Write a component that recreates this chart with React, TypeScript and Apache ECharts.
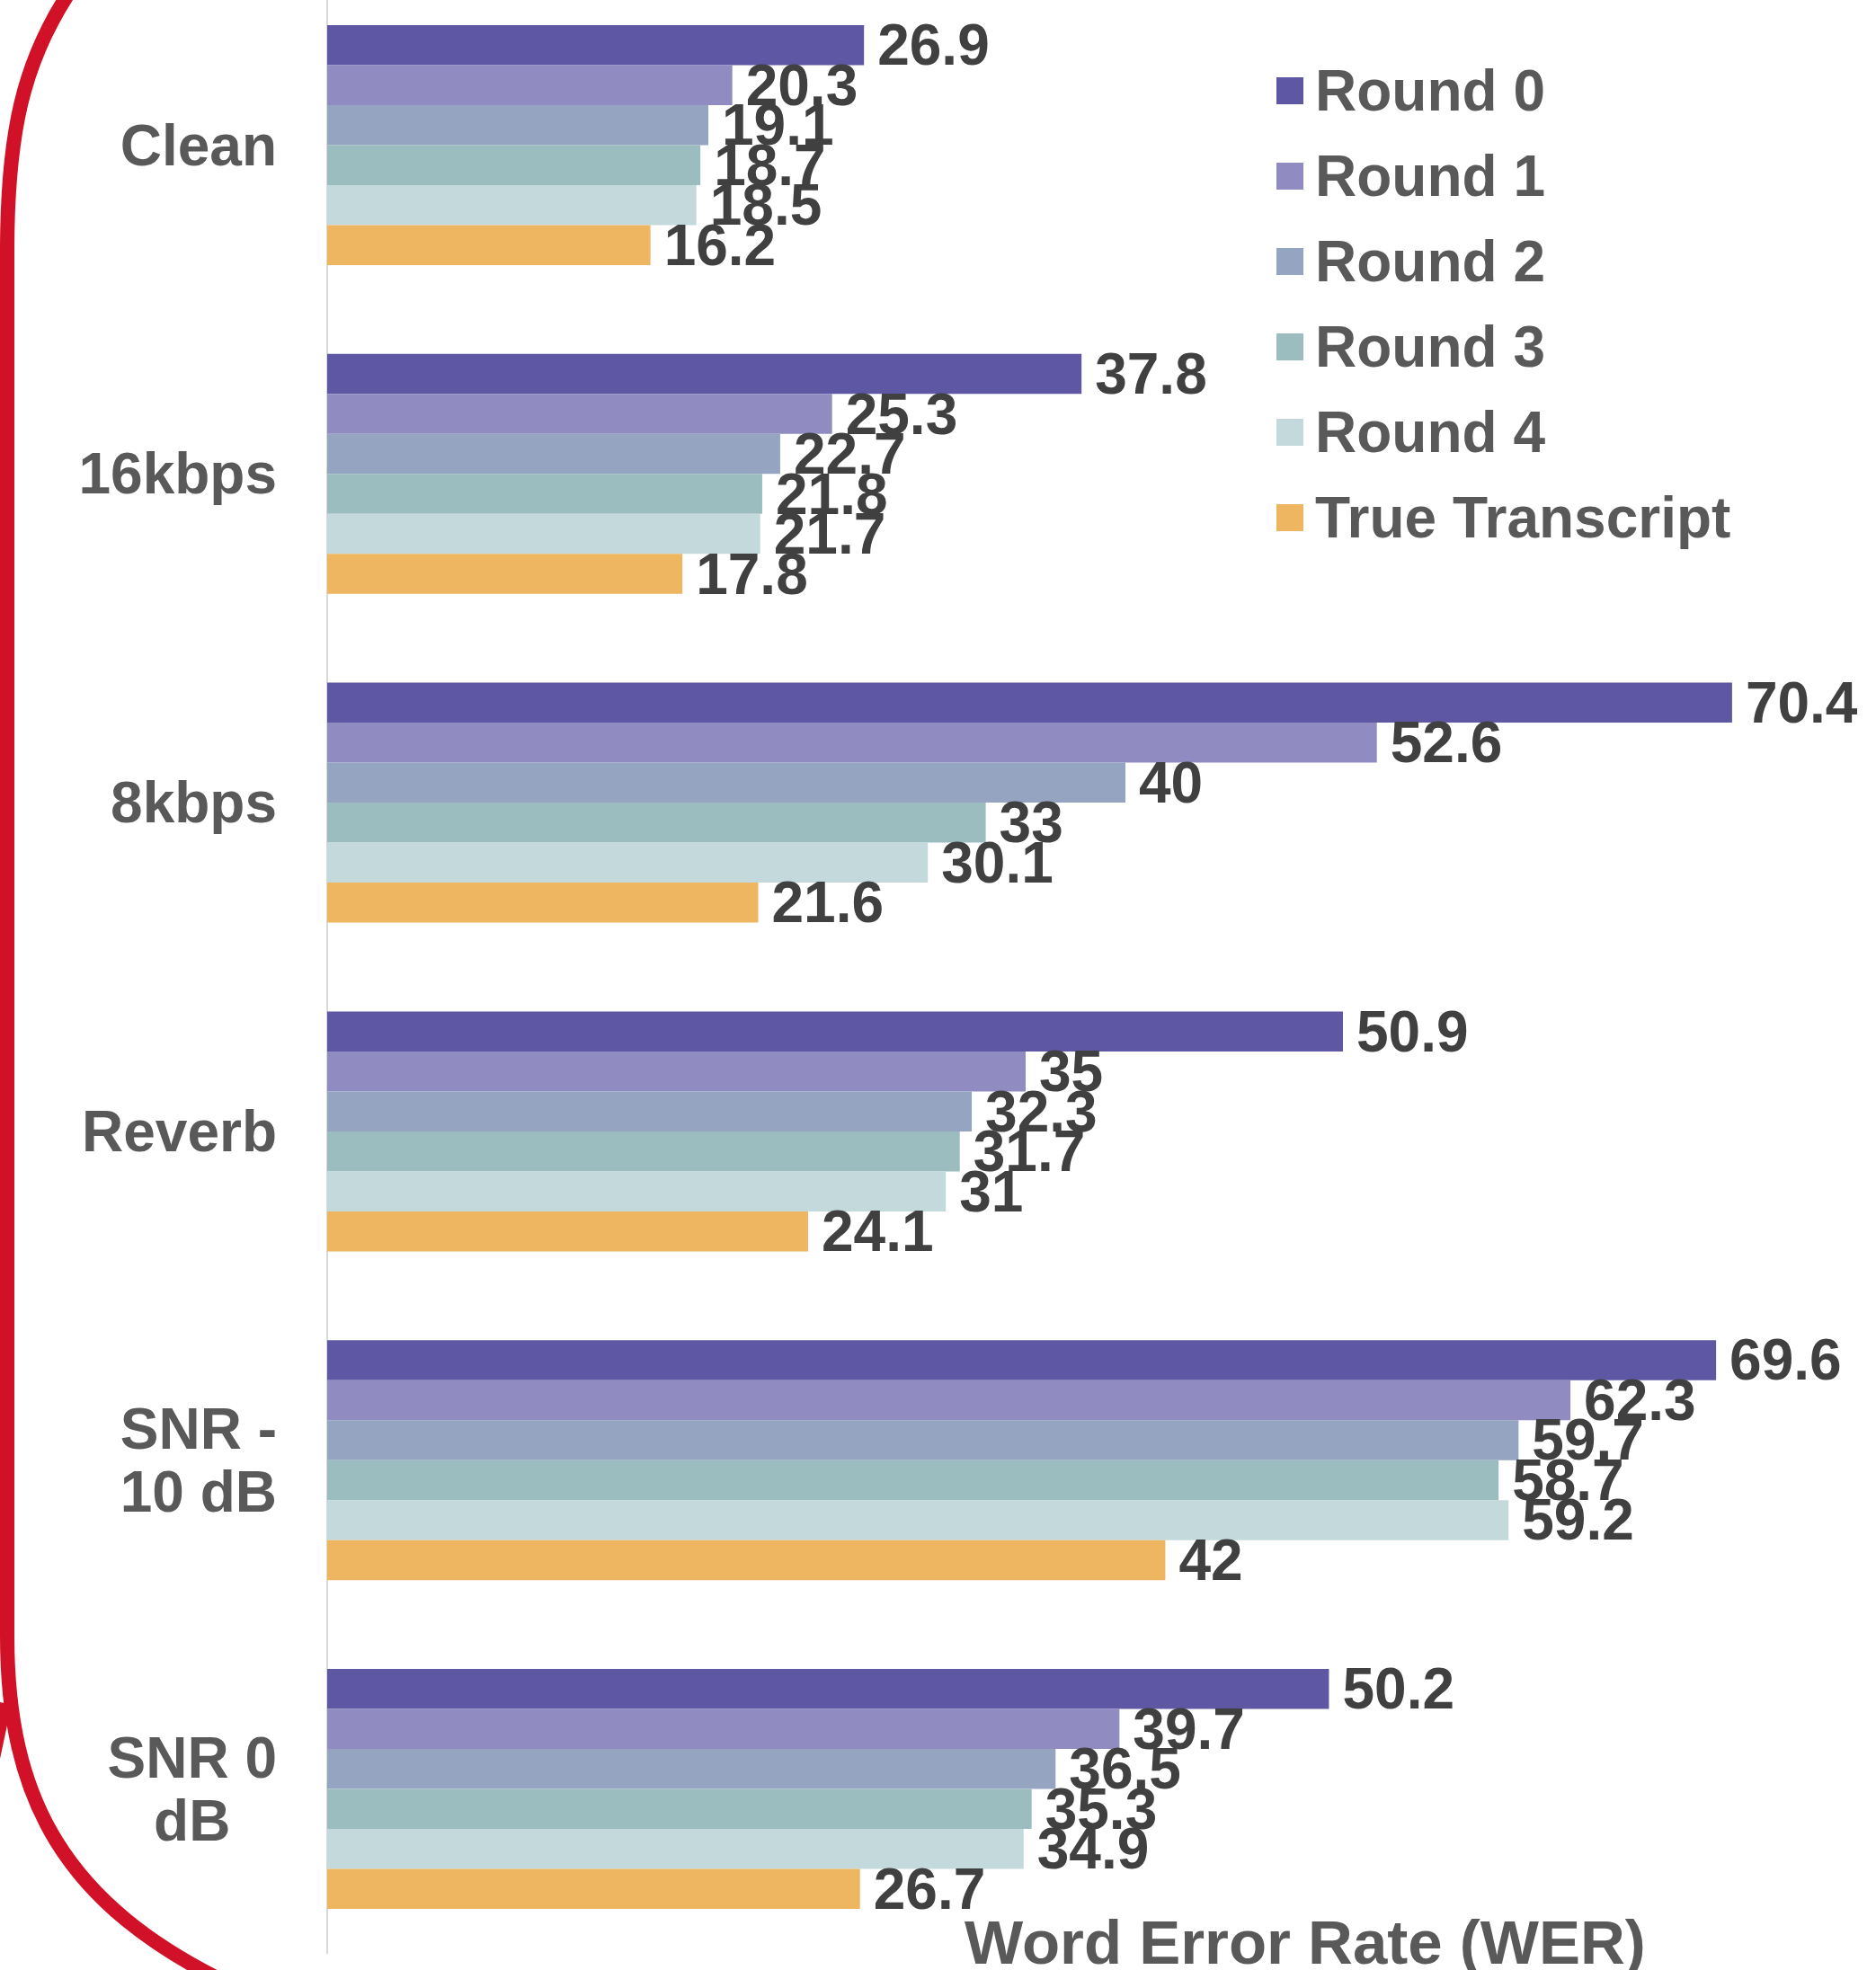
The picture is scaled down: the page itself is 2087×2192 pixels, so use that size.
import React, { useEffect, useRef } from "react";
import * as echarts from "echarts";

const categories = ["Clean", "16kbps", "8kbps", "Reverb", "SNR -\n10 dB", "SNR 0\ndB"];
const seriesNames = ["Round 0", "Round 1", "Round 2", "Round 3", "Round 4", "True Transcript"];
const round0 = [26.9, 37.8, 70.4, 50.9, 69.6, 50.2];
const round1 = [20.3, 25.3, 52.6, 35, 62.3, 39.7];
const round2 = [19.1, 22.7, 40, 32.3, 59.7, 36.5];
const round3 = [18.7, 21.8, 33, 31.7, 58.7, 35.3];
const round4 = [18.5, 21.7, 30.1, 31, 59.2, 34.9];
const trueTranscript = [16.2, 17.8, 21.6, 24.1, 42, 26.7];
const seriesValues = [round0, round1, round2, round3, round4, trueTranscript];
const colors = ["#5e57a3", "#908bc1", "#95a4c0", "#9bbdbf", "#c4d9dc", "#eeb661"];
const axisTitle = "Word Error Rate (WER)";

const FONT = '"Liberation Sans", Arial, sans-serif';

const redPath =
  "M 78 -10 C 25 70 8 150 8 280 L 8 1820 C 8 2000 70 2120 260 2210";
const redBranch = "M 5 1895 L -12 1975";

let registered = false;

export default function App() {
  const ref = useRef<HTMLDivElement>(null);
  useEffect(() => {
    document.body.style.margin = "0";
    if (!registered) {
      echarts.graphic.registerShape("redFrame", echarts.graphic.extendPath(redPath, {}));
      echarts.graphic.registerShape("redBranch", echarts.graphic.extendPath(redBranch, {}));
      registered = true;
    }
    const chart = echarts.init(ref.current!, null, { renderer: "svg" });
    const option: any = {
      animation: false,
      backgroundColor: "#ffffff",
      textStyle: { fontFamily: FONT },
      title: {
        text: axisTitle,
        left: 1073,
        top: 2127,
        padding: 0,
        textStyle: { fontFamily: FONT, fontSize: 69, fontWeight: "bold", color: "#595959" },
      },
      legend: {
        orient: "vertical",
        left: 1415,
        top: 64,
        itemWidth: 30,
        itemHeight: 30,
        itemGap: 31,
        icon: "rect",
        data: seriesNames,
        textStyle: {
          fontFamily: FONT,
          fontSize: 64,
          fontWeight: "bold",
          color: "#595959",
          padding: [0, 0, 0, 8],
        },
      },
      grid: {
        left: 364,
        top: -21.4,
        width: 1665,
        height: 2194.8,
        containLabel: false,
        outerBoundsMode: "none",
      },
      xAxis: {
        type: "value",
        min: 0,
        max: 75,
        show: false,
        splitLine: { show: false },
      },
      yAxis: {
        type: "category",
        inverse: true,
        data: categories,
        axisLine: { show: true, lineStyle: { color: "#d9d9d9", width: 2 } },
        axisTick: { show: false },
        axisLabel: {
          margin: 56,
          align: "right",
          fontFamily: FONT,
          fontSize: 64,
          fontWeight: "bold",
          color: "#595959",
          lineHeight: 70,
          formatter: (v: string) =>
            v
              .split("\n")
              .map((s) => "{c|" + s + "}")
              .join("\n"),
          rich: {
            c: {
              align: "center",
              fontFamily: FONT,
              fontSize: 64,
              fontWeight: "bold",
              color: "#595959",
              lineHeight: 70,
            },
          },
        },
      },
      series: seriesNames.map((name, i) => ({
        name,
        type: "bar",
        data: seriesValues[i],
        barGap: "0%",
        barCategoryGap: "27%",
        itemStyle: { color: colors[i] },
        label: {
          show: true,
          position: "right",
          distance: 15,
          fontFamily: FONT,
          fontSize: 64,
          fontWeight: "bold",
          color: "#404040",
        },
      })),
      graphic: [
        {
          type: "redFrame",
          x: 0,
          y: 0,
          silent: true,
          style: { fill: "none", stroke: "#d01128", lineWidth: 16 },
        },
        {
          type: "redBranch",
          x: 0,
          y: 0,
          silent: true,
          style: { fill: "none", stroke: "#d01128", lineWidth: 16 },
        },
      ],
    };
    chart.setOption(option);
    return () => chart.dispose();
  }, []);
  return (
    <div
      ref={ref}
      style={{ position: "absolute", left: 0, top: 0, width: 2087, height: 2192 }}
    />
  );
}
